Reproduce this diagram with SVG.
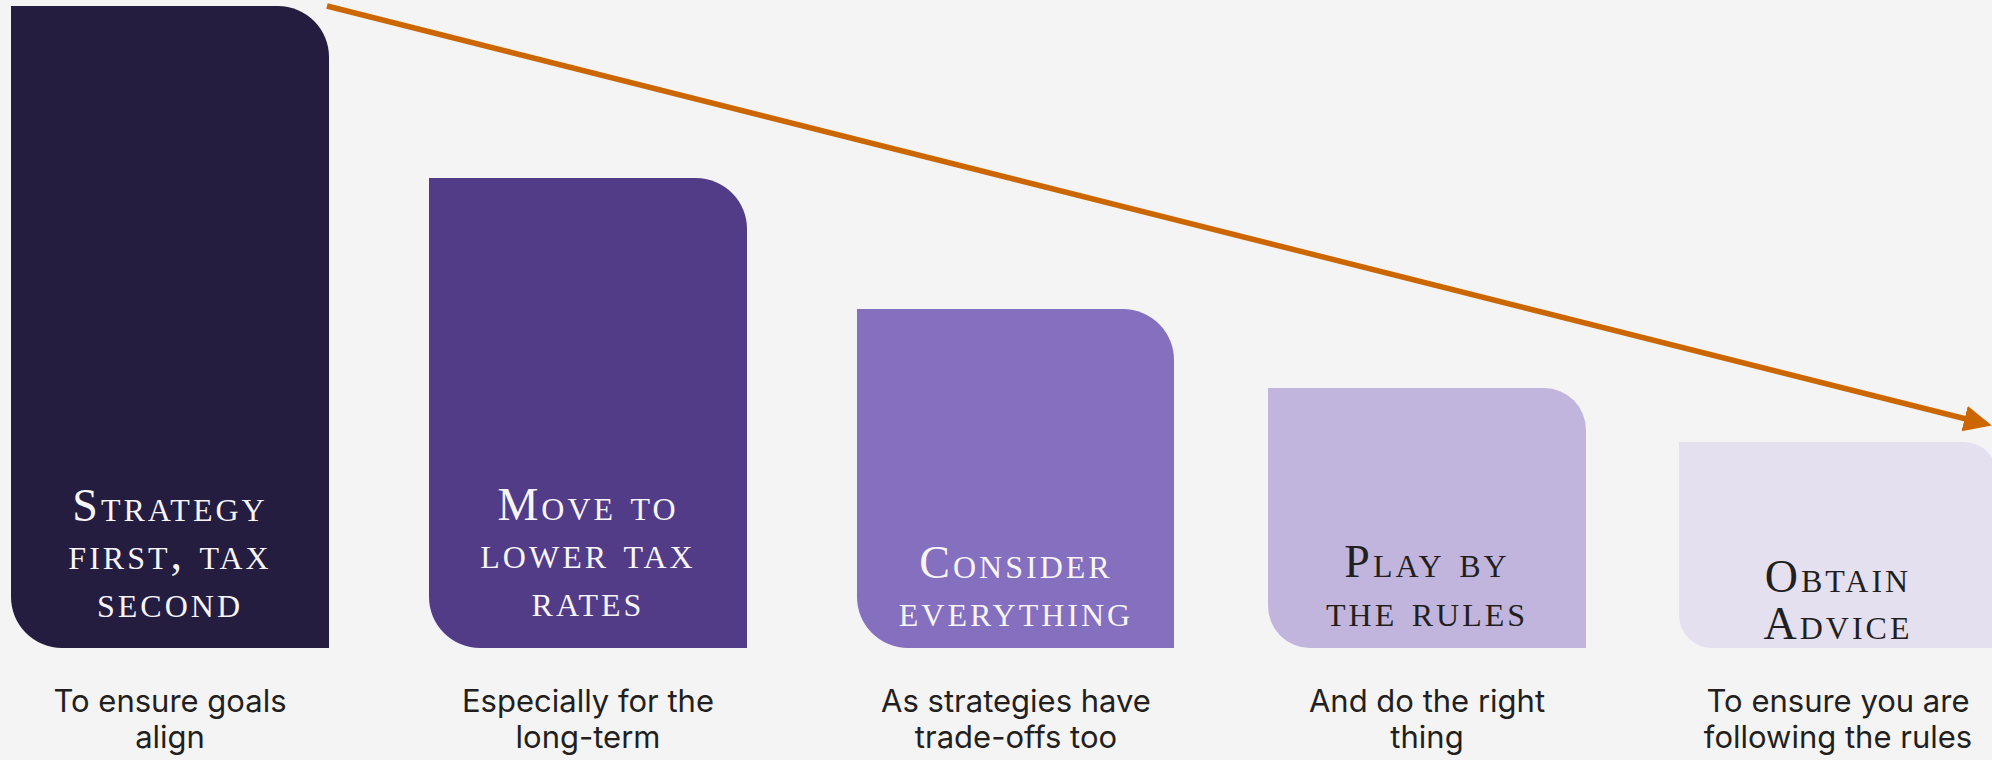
<svg xmlns="http://www.w3.org/2000/svg" width="1992" height="760" viewBox="0 0 1992 760">
<style>
.title{font-family:"Liberation Serif","DejaVu Serif",serif;font-size:46px;font-variant:small-caps;letter-spacing:3px;text-anchor:middle}
.light{fill:#F7F5FA}
.dark{fill:#231F20}
.desc{font-family:Inter,"Liberation Sans",sans-serif;font-size:31px;fill:#231F20;text-anchor:middle}
.arrow{fill:none;stroke:#CC6600;stroke-width:5.5;marker-end:url(#head)}
</style>
<defs>
<marker id="head" markerUnits="userSpaceOnUse" markerWidth="30" markerHeight="28" refX="22" refY="13" orient="auto">
<path d="M0,0 L28,13 L0,26 Z" fill="#CC6600"/>
</marker>
</defs>
<rect width="1992" height="760" fill="#F4F4F4"/>
<g id="node1">
<path d="M11,6 H278 A51,51 0 0 1 329,57 V648 H62 A51,51 0 0 1 11,597 Z" fill="#251D3F"/>
<text class="title light" x="170" y="521">Strategy</text>
<text class="title light" x="170" y="569">first, tax</text>
<text class="title light" x="170" y="617">second</text>
<text class="desc" x="170" y="712">To ensure goals</text>
<text class="desc" x="170" y="748">align</text>
</g>
<g id="node2">
<path d="M429,178 H696 A51,51 0 0 1 747,229 V648 H480 A51,51 0 0 1 429,597 Z" fill="#523C87"/>
<text class="title light" x="588" y="520">Move to</text>
<text class="title light" x="588" y="568">lower tax</text>
<text class="title light" x="588" y="616">rates</text>
<text class="desc" x="588" y="712">Especially for the</text>
<text class="desc" x="588" y="748">long-term</text>
</g>
<g id="node3">
<path d="M857,309 H1123 A51,51 0 0 1 1174,360 V648 H908 A51,51 0 0 1 857,597 Z" fill="#856FBF"/>
<text class="title light" x="1016" y="578">Consider</text>
<text class="title light" x="1016" y="626">everything</text>
<text class="desc" x="1016" y="712">As strategies have</text>
<text class="desc" x="1016" y="748">trade-offs too</text>
</g>
<g id="node4">
<path d="M1268,388 H1544 A42,42 0 0 1 1586,430 V648 H1310 A42,42 0 0 1 1268,606 Z" fill="#C1B5DE"/>
<text class="title dark" x="1427" y="577">Play by</text>
<text class="title dark" x="1427" y="626">the rules</text>
<text class="desc" x="1427" y="712">And do the right</text>
<text class="desc" x="1427" y="748">thing</text>
</g>
<g id="node5">
<path d="M1679,442 H1964 A33,33 0 0 1 1997,475 V648 H1712 A33,33 0 0 1 1679,615 Z" fill="#E4E0F0"/>
<text class="title dark" x="1838" y="592">Obtain</text>
<text class="title dark" x="1838" y="639">Advice</text>
<text class="desc" x="1838" y="712">To ensure you are</text>
<text class="desc" x="1838" y="748">following the rules</text>
</g>
<g id="connectors">
<path class="arrow" d="M327,6 L1986,424"/>
</g>
</svg>
